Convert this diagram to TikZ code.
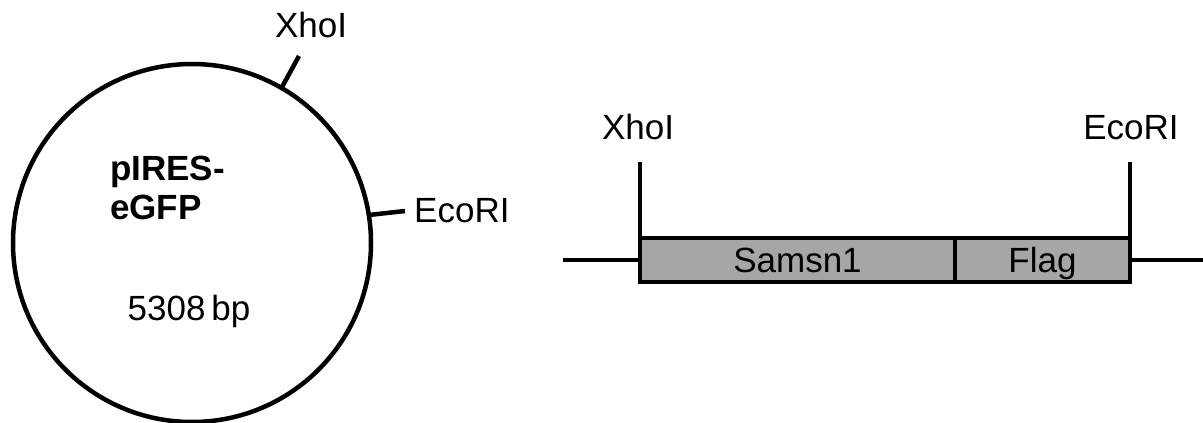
\documentclass[tikz,border=0pt]{standalone}
\usepackage{fontspec}
\setmainfont{Liberation Sans}
\begin{document}
\begin{tikzpicture}[x=1pt,y=-1pt,
  lbl/.style={inner sep=0pt,font=\fontsize{35}{40}\selectfont},
  thick line/.style={line width=4.5pt,line cap=butt},
  seg/.style={draw,line width=4.5pt,fill=segfill,inner sep=0pt,outer sep=0pt,minimum height=44pt}]
\definecolor{segfill}{HTML}{A6A6A6}
\useasboundingbox (0,0) rectangle (1203,423);
% plasmid
\node[circle,draw,line width=4.5pt,inner sep=0pt,outer sep=0pt,minimum size=358pt] (plasmid) at (192,243) {};
\coordinate (xtick) at (299,56);
\coordinate (etick) at (405,211);
\draw[thick line] (plasmid.60) -- (xtick);
\draw[thick line] (plasmid.9.5) -- (etick);
\node[lbl,anchor=base] (xlab) at (311,37) {XhoI};
\node[lbl,anchor=base west] (elab) at (414,222) {EcoRI};
\node[lbl,anchor=base west,font=\fontsize{35}{40}\selectfont\bfseries] (name1) at (110,180) {pIRES-};
\node[lbl,anchor=base west,font=\fontsize{35}{40}\selectfont\bfseries] (name2) at (110,219) {eGFP};
\node[lbl,anchor=base] (size) at (189,320) {5308\,bp};
% insert
\node[seg,minimum width=315pt,anchor=west] (samsn) at (640,260) {};
\node[seg,minimum width=175pt,anchor=west] (flag) at (955,260) {};
\node[lbl,anchor=base] (samsnt) at (797.5,272) {Samsn1};
\node[lbl,anchor=base] (flagt) at (1042.5,272) {Flag};
\coordinate (lend) at (563,260);
\coordinate (rend) at (1203,260);
\coordinate (xtop) at (640,162);
\coordinate (etop) at (1130,162);
\draw[thick line] (lend) -- (samsn.west);
\draw[thick line] (flag.east) -- (rend);
\draw[thick line] (samsn.north west) -- (xtop);
\draw[thick line] (flag.north east) -- (etop);
\node[lbl,anchor=base] (xlab2) at (638,139) {XhoI};
\node[lbl,anchor=base] (elab2) at (1131,139) {EcoRI};
\end{tikzpicture}
\end{document}
